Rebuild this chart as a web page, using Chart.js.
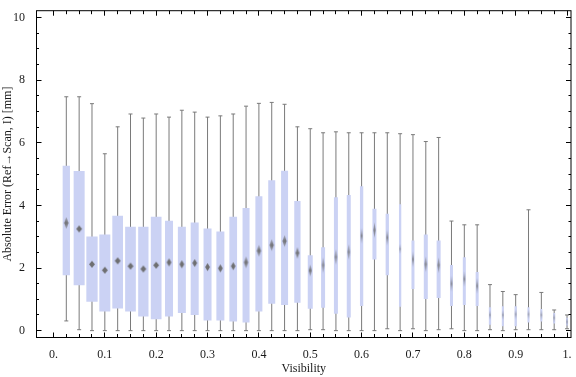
<!DOCTYPE html>
<html>
<head>
<meta charset="utf-8">
<script src="https://cdn.jsdelivr.net/npm/chart.js@4/dist/chart.umd.min.js"></script>
<style>
html,body{margin:0;padding:0;background:#fff;}
canvas{display:block;}
</style>
</head>
<body>
<canvas id="c" width="576" height="377"></canvas>
<script>
// ---- data ----
const visibility = [0.025,0.05,0.075,0.1,0.125,0.15,0.175,0.2,0.225,0.25,0.275,0.3,0.325,0.35,0.375,0.4,0.425,0.45,0.475,0.5,0.525,0.55,0.575,0.6,0.625,0.65,0.675,0.7,0.725,0.75,0.775,0.8,0.825,0.85,0.875,0.9,0.925,0.95,0.975,1.0];
const whiskerLow  = [0.31,0.03,0,0,0,0,0,0,0,0,0,0,0,0,0,0,0,0,0,0.03,0.03,0,0,0,0,0.06,0,0.06,0,0.03,0.06,0,0,0.03,0,0.03,0.03,0.03,0.03,0.06];
const quartile1   = [1.77,1.45,0.92,0.61,0.71,0.61,0.45,0.36,0.45,0.56,0.50,0.32,0.32,0.29,0.26,0.61,0.86,0.82,0.89,0.70,0.73,0.54,0.42,0.79,2.27,1.77,0.76,1.33,1.01,1.04,0.79,0.82,0.79,0.19,0.14,0.14,0.26,0.29,0.23,0.16];
const median      = [3.44,3.25,2.12,1.93,2.23,2.06,1.97,2.09,2.18,2.12,2.16,2.03,1.99,2.06,2.18,2.55,2.73,2.86,2.48,1.92,2.09,2.35,2.51,3.03,3.21,2.97,2.61,2.28,2.12,2.09,1.50,1.65,1.43,0.50,0.50,0.52,0.52,0.50,0.41,0.28];
const quartile3   = [5.27,5.10,3.01,3.07,3.67,3.32,3.32,3.64,3.51,3.32,3.45,3.26,3.17,3.64,3.92,4.29,4.80,5.11,4.14,2.41,2.66,4.26,4.33,4.61,3.89,3.73,4.04,2.88,3.07,2.88,2.10,2.34,1.87,0.75,0.78,0.78,0.75,0.69,0.56,0.41];
const whiskerHigh = [7.47,7.47,7.25,5.65,6.51,6.92,6.79,6.92,6.82,7.04,6.98,6.82,6.86,6.92,7.17,7.26,7.29,7.23,6.51,6.45,6.32,6.35,6.32,6.32,6.32,6.32,6.29,6.26,6.04,6.17,3.50,3.38,3.38,1.47,1.25,1.15,3.86,1.22,0.66,0.50];

const xTickValues = [0,0.1,0.2,0.3,0.4,0.5,0.6,0.7,0.8,0.9,1.0];
const xTickLabels = ["0.","0.1","0.2","0.3","0.4","0.5","0.6","0.7","0.8","0.9","1."];
const yTickValues = [0,2,4,6,8,10];
const yTickLabels = ["0","2","4","6","8","10"];

// ---- styles ----
const boxWidthsPx = [7.3,11,11.3,11,10.7,10.7,10.3,10.7,8,8,8,8,8,7.7,7,7,7,7,6.3,5,4,4,4,3.3,4,3.3,2.3,3,4,4,3,3,3,2.3,2,2.3,2,2,2,2];
const boxColor = 'rgb(203,210,244)';
const whiskerColor = '#7a7a7a';
const markerRGB = '105,105,105';
const serif = "'Liberation Serif', 'Times New Roman', serif";

function diamondImage(w, h, alpha, soft) {
  const c = document.createElement('canvas');
  const W = Math.ceil(w) + 2, H = Math.ceil(h) + 2;
  c.width = W; c.height = H;
  const g = c.getContext('2d');
  if (soft) {
    const grad = g.createLinearGradient(0, (H - h) / 2, 0, (H + h) / 2);
    grad.addColorStop(0, 'rgba(' + markerRGB + ',' + (alpha * 0.5) + ')');
    grad.addColorStop(0.5, 'rgba(' + markerRGB + ',' + alpha + ')');
    grad.addColorStop(1, 'rgba(' + markerRGB + ',' + (alpha * 0.5) + ')');
    g.fillStyle = grad;
  } else {
    g.fillStyle = 'rgba(' + markerRGB + ',' + alpha + ')';
  }
  g.beginPath();
  g.moveTo(W / 2, (H - h) / 2);
  g.lineTo((W + w) / 2, H / 2);
  g.lineTo(W / 2, (H + h) / 2);
  g.lineTo((W - w) / 2, H / 2);
  g.closePath();
  g.fill();
  return c;
}
const markerImages = boxWidthsPx.map(w => {
  const mw = Math.min(6, Math.max(1.6, w * 0.6));
  const mh = w >= 10 ? 7 : w >= 7.5 ? 8 : w >= 5 ? 12 : w >= 3 ? 16 : 10;
  const alpha = w >= 7.5 ? 0.95 : w >= 5 ? 0.9 : w >= 3 ? 0.75 : 0.55;
  return diamondImage(mw, mh, alpha, w < 7.5);
});

// ---- datasets ----
const datasets = [];
datasets.push({
  type: 'bar', label: 'whiskers', order: 3,
  data: visibility.map((v, i) => ({x: v, y: [whiskerLow[i], whiskerHigh[i]]})),
  backgroundColor: whiskerColor, borderWidth: 0, barThickness: 1, grouped: false, inflateAmount: 0
});
visibility.forEach((v, i) => {
  datasets.push({
    type: 'bar', label: 'box' + i, order: 2,
    data: [{x: v, y: [quartile1[i], quartile3[i]]}],
    backgroundColor: boxColor, borderWidth: 0, barThickness: boxWidthsPx[i], grouped: false, inflateAmount: 0
  });
});
datasets.push({
  type: 'line', label: 'caps', order: 1, showLine: false,
  data: visibility.map((v, i) => ({x: v, y: whiskerLow[i]})).concat(visibility.map((v, i) => ({x: v, y: whiskerHigh[i]}))),
  pointStyle: 'line', pointRadius: 2, pointBorderWidth: 1, borderColor: whiskerColor, backgroundColor: whiskerColor
});
datasets.push({
  type: 'line', label: 'median', order: 0, showLine: false,
  data: visibility.map((v, i) => ({x: v, y: median[i]})),
  pointStyle: ctx => markerImages[ctx.dataIndex], pointRadius: 3
});

// ---- frame with inward ticks ----
const framePlugin = {
  id: 'frame',
  afterDraw(chart) {
    const {ctx, chartArea: a, scales: {x, y}} = chart;
    ctx.save();
    ctx.strokeStyle = '#000';
    ctx.lineWidth = 1;
    ctx.strokeRect(a.left, a.top, a.right - a.left, a.bottom - a.top);
    ctx.beginPath();
    for (let k = 0; k <= 40; k++) {
      const v = k * 0.025;
      const px = Math.round(x.getPixelForValue(v) - 0.5) + 0.5;
      const len = (k % 4 === 0) ? 5 : 3.5;
      ctx.moveTo(px, a.bottom); ctx.lineTo(px, a.bottom - len);
      ctx.moveTo(px, a.top); ctx.lineTo(px, a.top + len);
    }
    for (let k = 0; k <= 20; k++) {
      const v = k * 0.5;
      const py = Math.round(y.getPixelForValue(v) - 0.5) + 0.5;
      const len = (k % 4 === 0) ? 5 : 2.5;
      ctx.moveTo(a.left, py); ctx.lineTo(a.left + len, py);
      ctx.moveTo(a.right, py); ctx.lineTo(a.right - len, py);
    }
    ctx.stroke();
    ctx.restore();
  }
};

new Chart(document.getElementById('c'), {
  type: 'bar',
  data: {datasets},
  plugins: [framePlugin],
  options: {
    responsive: false,
    animation: false,
    devicePixelRatio: 1,
    layout: {padding: {top: 4.5, right: 1.5, left: 0, bottom: 0}},
    plugins: {legend: {display: false}, tooltip: {enabled: false}},
    scales: {
      x: {
        type: 'linear', min: -0.03304, max: 1.00774, offset: false,
        grid: {display: false}, border: {display: false},
        afterBuildTicks: s => { s.ticks = xTickValues.map(v => ({value: v})); },
        afterFit: s => { s.height = 39.5; },
        ticks: {autoSkip: false, maxRotation: 0, minRotation: 0, padding: 2.5, color: '#1a1a1a',
                font: {family: serif, size: 12}, callback: (v, i) => xTickLabels[i]},
        title: {display: true, text: 'Visibility', color: '#1a1a1a', font: {family: serif, size: 12},
                padding: {top: 0, bottom: 1}}
      },
      y: {
        type: 'linear', min: -0.2194, max: 10.2194, beginAtZero: false,
        grid: {display: false}, border: {display: false},
        afterBuildTicks: s => { s.ticks = yTickValues.map(v => ({value: v})); },
        afterFit: s => { s.width = 36.5; },
        ticks: {padding: 3.5, color: '#1a1a1a', font: {family: serif, size: 12}, callback: (v, i) => yTickLabels[i]},
        title: {display: true, text: 'Absolute Error (Ref\u2192Scan, I) [mm]', color: '#1a1a1a',
                font: {family: serif, size: 12}, padding: {top: 1, bottom: 0}}
      }
    }
  }
});
</script>
</body>
</html>
